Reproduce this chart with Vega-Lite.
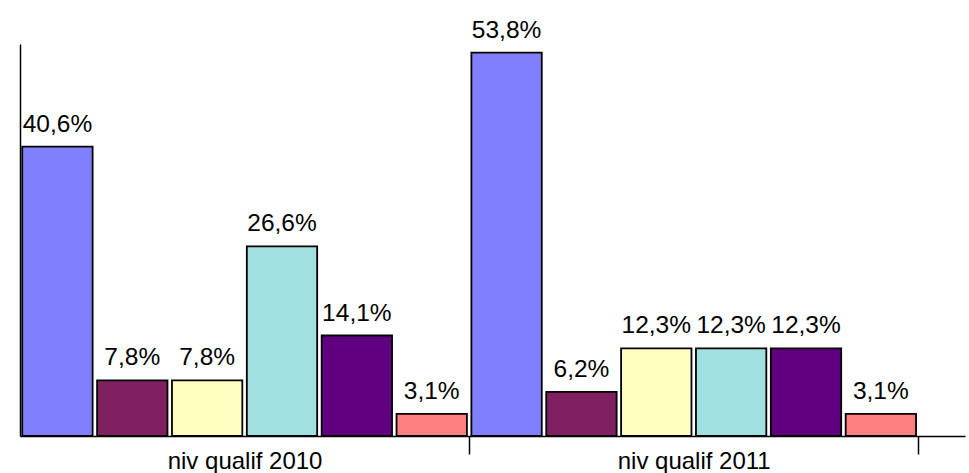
{
  "$schema": "https://vega.github.io/schema/vega-lite/v6.json",
  "width": 945,
  "height": 392,
  "autosize": {"type": "none"},
  "padding": {"left": 20, "top": 44, "right": 4, "bottom": 37},
  "config": {
    "view": {"stroke": null},
    "font": "Liberation Sans",
    "locale": {"number": {"decimal": ",", "thousands": " ", "grouping": [3], "currency": ["", " €"]}}
  },
  "data": {
    "values": [
      {"groupe": "niv qualif 2010", "serie": "série 1", "part": 0.406},
      {"groupe": "niv qualif 2010", "serie": "série 2", "part": 0.078},
      {"groupe": "niv qualif 2010", "serie": "série 3", "part": 0.078},
      {"groupe": "niv qualif 2010", "serie": "série 4", "part": 0.266},
      {"groupe": "niv qualif 2010", "serie": "série 5", "part": 0.141},
      {"groupe": "niv qualif 2010", "serie": "série 6", "part": 0.031},
      {"groupe": "niv qualif 2011", "serie": "série 1", "part": 0.538},
      {"groupe": "niv qualif 2011", "serie": "série 2", "part": 0.062},
      {"groupe": "niv qualif 2011", "serie": "série 3", "part": 0.123},
      {"groupe": "niv qualif 2011", "serie": "série 4", "part": 0.123},
      {"groupe": "niv qualif 2011", "serie": "série 5", "part": 0.123},
      {"groupe": "niv qualif 2011", "serie": "série 6", "part": 0.031}
    ]
  },
  "encoding": {
    "x": {
      "field": "groupe", "type": "nominal", "sort": null, "title": null,
      "scale": {"paddingInner": 0, "paddingOuter": 0.052, "align": 0},
      "axis": {
        "labelAngle": 0,
        "tickBand": "extent",
        "tickSize": 18,
        "tickColor": "#000",
        "tickWidth": 1.5,
        "tickOpacity": {"condition": {"test": "datum.value !== 'niv qualif 2010' && datum.value !== 'niv qualif 2011'", "value": 0}, "value": 1},
        "domainColor": "#000",
        "domainWidth": 1.5,
        "labelFontSize": 24,
        "labelColor": "#000",
        "labelBaseline": "alphabetic",
        "labelPadding": 14,
        "labelFont": "Liberation Sans"
      }
    },
    "xOffset": {"field": "serie", "type": "nominal", "sort": null, "scale": {"paddingInner": 0.06, "paddingOuter": 0.03}},
    "y": {
      "field": "part", "type": "quantitative",
      "scale": {"domain": [0, 0.55], "nice": false},
      "axis": {"title": null, "labels": false, "ticks": false, "grid": false, "domainColor": "#000", "domainWidth": 1.5}
    }
  },
  "layer": [
    {
      "mark": {"type": "bar", "stroke": "#000", "strokeWidth": 1.8},
      "encoding": {
        "color": {
          "field": "serie", "type": "nominal", "sort": null, "legend": null,
          "scale": {"range": ["#8080FF", "#802060", "#FFFFC0", "#A0E0E0", "#600080", "#FF8080"]}
        }
      }
    },
    {
      "mark": {"type": "text", "baseline": "alphabetic", "dy": -15, "fontSize": 24.5, "color": "#000", "font": "Liberation Sans"},
      "encoding": {"text": {"field": "part", "type": "quantitative", "format": ".1%"}}
    }
  ]
}
